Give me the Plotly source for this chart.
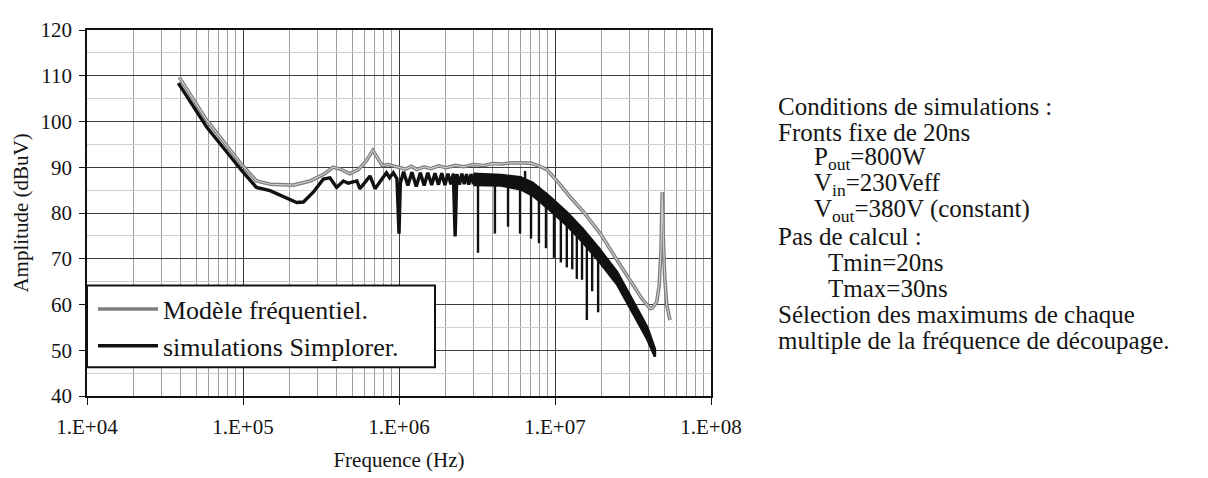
import plotly.graph_objects as go

# ---------------- data (frequencies in MHz, amplitudes in dBuV) ----------------
model_f = [0.039, 0.0585, 0.098, 0.122, 0.15, 0.21, 0.27, 0.33, 0.378, 0.42, 0.485,
           0.55, 0.62, 0.68, 0.73, 0.78, 0.85, 0.92, 1.0, 1.1, 1.2, 1.3, 1.45, 1.6,
           1.8, 2.0, 2.3, 2.6, 3.0, 3.5, 4.0, 4.6, 5.3, 6.0, 7.0, 8.0, 8.85, 10.5,
           12.5, 15.1, 19.5, 24.8, 31.7, 36.0, 40.7, 42.0, 44.8, 46.5, 47.8, 48.7,
           49.5, 50.5, 52.0, 54.6]
model_db = [109.7, 100.3, 90.6, 87.0, 86.3, 86.1, 87.0, 88.5, 90.0, 89.6, 88.6,
            89.5, 91.5, 93.7, 92.0, 90.4, 90.6, 90.3, 90.0, 89.6, 90.2, 89.5, 90.1, 89.7,
            90.3, 89.9, 90.4, 90.1, 90.6, 90.4, 90.8, 90.7, 91.0, 90.9, 90.9, 90.2, 89.5, 86.7,
            83.5, 80.4, 75.5, 69.9, 64.4, 61.3, 59.1, 59.2, 60.5, 64.0, 72.0, 84.6,
            74.0, 66.0, 60.0, 56.6]

sim_f = [0.0385, 0.0585, 0.098, 0.122, 0.149, 0.19, 0.221, 0.244, 0.283, 0.327, 0.361,
         0.398, 0.44, 0.473, 0.537, 0.562, 0.652, 0.702, 0.83, 0.87, 0.92, 0.97, 1.0,
         1.02, 1.07, 1.14, 1.21, 1.29, 1.37, 1.45, 1.53, 1.62, 1.70, 1.79, 1.88, 1.97,
         2.06, 2.15, 2.23, 2.29, 2.35, 2.44, 2.53, 2.62, 2.71, 2.80, 2.90, 3.0, 3.1]
sim_db = [108.4, 98.8, 89.3, 85.6, 84.9, 83.2, 82.3, 82.4, 84.6, 87.4, 87.7,
          85.6, 87.0, 86.5, 87.0, 85.3, 88.1, 85.3, 88.8, 87.7, 88.8, 87.5, 75.5,
          86.5, 89.0, 86.0, 88.9, 85.8, 88.8, 86.0, 88.8, 86.1, 88.7, 86.2, 88.7, 86.1,
          88.6, 86.3, 88.6, 74.9, 88.5, 86.2, 88.6, 86.3, 88.5, 86.2, 88.5, 86.3, 88.4]

# dense harmonic band of the Simplorer simulation: upper / lower envelope
band_f = [3.0, 4.5, 6.0, 7.2, 9.3, 11.9, 15.0, 19.4, 25.0, 31.6, 39.0, 43.7]
band_hi = [88.6, 88.3, 87.8, 86.6, 83.5, 80.2, 76.6, 72.0, 67.1, 60.8, 55.1, 50.3]
band_lo = [86.1, 86.0, 85.2, 83.8, 80.6, 77.3, 73.7, 69.2, 64.4, 58.1, 52.4, 48.6]

# isolated harmonic notches of the Simplorer simulation
notch_f = [3.21, 4.12, 5.0, 5.97, 6.43, 7.02, 7.89, 8.75, 9.85, 10.9, 11.9, 12.9,
           13.8, 14.9, 16.0, 17.3, 18.9]
notch_lo = [71.3, 75.5, 77.0, 75.5, 85.5, 74.4, 73.4, 72.3, 70.2, 69.2, 68.1, 67.7,
            65.6, 65.4, 56.6, 62.9, 58.3]
notch_hi = [88.5, 88.3, 88.1, 87.8, 89.2, 87.0, 85.8, 84.5, 82.8, 81.5, 80.2, 79.0,
            78.0, 76.8, 75.5, 74.2, 72.6]

x_tickvals = [1e4, 1e5, 1e6, 1e7, 1e8]
x_ticktext = ["1.E+04", "1.E+05", "1.E+06", "1.E+07", "1.E+08"]
y_tickvals = [40, 50, 60, 70, 80, 90, 100, 110, 120]

legend_names = ["Modèle fréquentiel.", "simulations Simplorer."]

notes = [
    ("Conditions de simulations :", 0),
    ("Fronts fixe de 20ns", 0),
    ("P<sub>out</sub>=800W", 1),
    ("V<sub>in</sub>=230Veff", 1),
    ("V<sub>out</sub>=380V (constant)", 1),
    ("Pas de calcul :", 0),
    ("Tmin=20ns", 2),
    ("Tmax=30ns", 2),
    ("Sélection des maximums de chaque", 0),
    ("multiple de la fréquence de découpage.", 0),
]

MHZ = 1e6
FONT = "Liberation Serif, Times New Roman, serif"
TXT = "#141414"

fig = go.Figure()

# grey model curve: hollow-looking double line
fig.add_trace(go.Scatter(
    x=[v * MHZ for v in model_f], y=model_db, mode="lines",
    line=dict(color="#7d7d7d", width=3.6), name=legend_names[0]))
fig.add_trace(go.Scatter(
    x=[v * MHZ for v in model_f], y=model_db, mode="lines",
    line=dict(color="#d0d0d0", width=1.1), showlegend=False, hoverinfo="skip"))

# black simulation band
bx = [v * MHZ for v in band_f] + [v * MHZ for v in band_f[::-1]]
by = band_hi + band_lo[::-1]
fig.add_trace(go.Scatter(
    x=bx, y=by, mode="lines", fill="toself", fillcolor="#111111",
    line=dict(color="#111111", width=2.5), showlegend=False, hoverinfo="skip"))

# notches
nx, ny = [], []
for f, lo, hi in zip(notch_f, notch_lo, notch_hi):
    nx += [f * MHZ, f * MHZ, None]
    ny += [hi, lo, None]
fig.add_trace(go.Scatter(
    x=nx, y=ny, mode="lines", line=dict(color="#111111", width=2.4),
    showlegend=False, hoverinfo="skip"))

# black simulation curve (low frequency part + sparse harmonics)
fig.add_trace(go.Scatter(
    x=[v * MHZ for v in sim_f], y=sim_db, mode="lines",
    line=dict(color="#111111", width=3.4), name=legend_names[1]))

# page-pixel helpers (plot area spans x 87..711, y 18..399 on the page)
def px_x(p):
    return (p - 87) / 624.0

def px_y(p):
    return (399 - p) / 381.0

# legend frame (white box)
fig.add_shape(type="rect", xref="paper", yref="paper",
              x0=px_x(87), x1=px_x(435), y0=px_y(369), y1=px_y(284),
              line=dict(color="#111111", width=2), fillcolor="white", layer="above")

# right-hand text block
indent = [776, 812, 826]
for i, (t, lvl) in enumerate(notes):
    fig.add_annotation(
        x=px_x(indent[lvl]), y=px_y(98 + i * 27.0), xref="paper", yref="paper",
        text=t, showarrow=False, xanchor="left", yanchor="middle",
        font=dict(family=FONT, size=25, color=TXT))

fig.update_layout(
    width=1200, height=470,
    margin=dict(l=79, r=497, t=10, b=79),
    paper_bgcolor="white", plot_bgcolor="white",
    font=dict(family=FONT, color=TXT),
    showlegend=True,
    legend=dict(x=px_x(93), y=px_y(284), xanchor="left", yanchor="top",
                bgcolor="rgba(0,0,0,0)", borderwidth=0,
                font=dict(family=FONT, size=26, color=TXT),
                itemwidth=60, tracegroupgap=0),
    xaxis=dict(type="log", range=[4, 8], tickvals=x_tickvals, ticktext=x_ticktext,
               showgrid=True, gridcolor="#3a3a3a", gridwidth=1.3,
               minor=dict(dtick="D1", showgrid=True, gridcolor="#9c9c9c", gridwidth=1),
               ticks="outside", ticklen=7, tickcolor="#111", tickwidth=1.3,
               showline=True, linecolor="#111", linewidth=1.5, mirror=True,
               tickfont=dict(family=FONT, size=21, color=TXT),
               ticklabelstandoff=4,
               title=dict(text="Frequence (Hz)", font=dict(family=FONT, size=21, color=TXT),
                          standoff=14),
               zeroline=False),
    yaxis=dict(range=[40, 120], tickvals=y_tickvals,
               showgrid=True, gridcolor="#3a3a3a", gridwidth=1.3,
               minor=dict(dtick=5, showgrid=True, gridcolor="#cfcfcf", gridwidth=1),
               ticks="outside", ticklen=6, tickcolor="#111", tickwidth=1.3,
               showline=True, linecolor="#111", linewidth=1.5, mirror=True,
               tickfont=dict(family=FONT, size=21, color=TXT),
               ticklabelstandoff=3,
               title=dict(text="Amplitude (dBuV)", font=dict(family=FONT, size=21, color=TXT),
                          standoff=6),
               zeroline=False),
)

fig.write_html("out.html")
